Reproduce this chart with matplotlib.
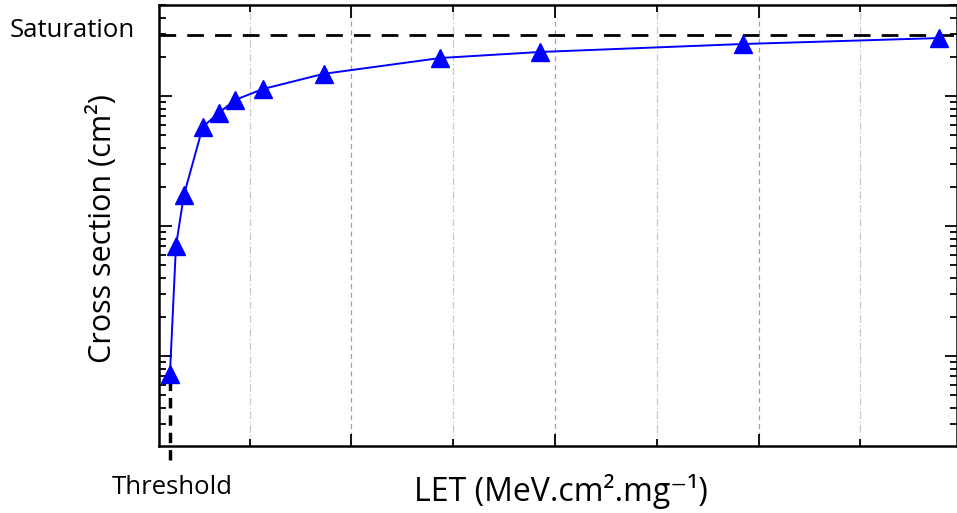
import matplotlib.pyplot as plt
from matplotlib.ticker import MultipleLocator, LogLocator, NullFormatter

let_values = [2.16, 2.75, 3.53, 5.39, 6.96, 8.53, 11.27, 17.25, 28.73, 38.53, 58.43, 77.75]
cross_sections = [7.3e-9, 7.0e-8, 1.73e-7, 5.8e-7, 7.4e-7, 9.3e-7, 1.13e-6, 1.48e-6,
                  1.96e-6, 2.18e-6, 2.51e-6, 2.79e-6]
saturation = 2.94e-6
threshold = 2.16

plt.rcParams['font.family'] = ['Open Sans', 'DejaVu Sans']

fig = plt.figure(figsize=(9.57, 5.13), dpi=100)
ax = fig.add_axes([0.1661, 0.1306, 0.8339, 0.8597])

ax.set_yscale('log')
ax.set_xlim(1.08, 79.5)
ax.set_ylim(10**-8.692, 10**-5.3)

# grid
ax.xaxis.set_major_locator(MultipleLocator(20))
ax.xaxis.set_minor_locator(MultipleLocator(10))
ax.grid(True, which='major', axis='x', color='#a0a0a0', linestyle=(0, (4, 3)), linewidth=0.9)
ax.grid(True, which='minor', axis='x', color='#c8c8c8', linestyle=(0, (6, 2, 1, 2)), linewidth=0.9)

ax.plot(let_values, cross_sections, color='#0000ff', linewidth=1.4,
        marker='^', markersize=13, markerfacecolor='#0000ff', markeredgecolor='#0000ff', zorder=4)

# saturation and threshold lines
ax.axhline(saturation, color='black', linestyle=(0, (6, 4)), linewidth=2, zorder=3)
ax.plot([threshold, threshold], [10**-8.8, 6.2e-9], color='black', linestyle=(0, (3, 2)),
        linewidth=2.5, clip_on=False, zorder=3)

# ticks
ax.yaxis.set_major_locator(LogLocator(base=10, numticks=10))
ax.yaxis.set_minor_locator(LogLocator(base=10, subs=range(2, 10), numticks=10))
ax.xaxis.set_major_formatter(NullFormatter())
ax.xaxis.set_minor_formatter(NullFormatter())
ax.yaxis.set_major_formatter(NullFormatter())
ax.yaxis.set_minor_formatter(NullFormatter())
ax.tick_params(which='both', direction='in', top=True, right=True, width=1.3)
ax.tick_params(which='major', length=9)
ax.tick_params(which='minor', length=5)

for s in ax.spines.values():
    s.set_linewidth(1.8)

ax.set_ylabel('Cross section (cm²)', fontsize=22, va='center', ha='center')
ax.yaxis.set_label_coords(-0.0704, 0.494)
ax.set_xlabel('LET (MeV.cm².mg⁻¹)', fontsize=23, va='center', ha='center')
ax.xaxis.set_label_coords(0.504, -0.104)

fig.text(0.0105, 0.941, 'Saturation', fontsize=18.5, va='center', ha='left')
fig.text(0.18, 0.049, 'Threshold', fontsize=18.5, va='center', ha='center')

fig.savefig('out.png', dpi=100)
